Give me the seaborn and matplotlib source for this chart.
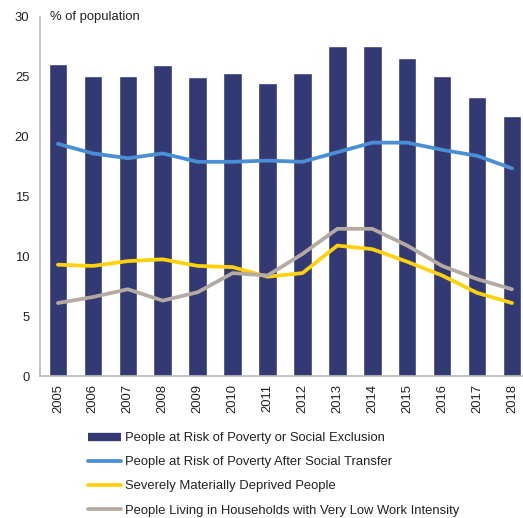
import numpy as np
import matplotlib
matplotlib.use('Agg')
import matplotlib.pyplot as plt
import seaborn as sns
from matplotlib.lines import Line2D

years = ['2005', '2006', '2007', '2008', '2009', '2010', '2011',
         '2012', '2013', '2014', '2015', '2016', '2017', '2018']
risk_poverty_exclusion = [26.1, 25.1, 25.1, 26.0, 25.0, 25.3, 24.5,
                          25.3, 27.6, 27.6, 26.6, 25.1, 23.3, 21.7]
risk_after_transfer = [19.4, 18.6, 18.2, 18.6, 17.9, 17.9, 18.0,
                       17.9, 18.7, 19.5, 19.5, 18.9, 18.4, 17.35]
materially_deprived = [9.3, 9.2, 9.6, 9.75, 9.2, 9.1, 8.3,
                       8.6, 10.9, 10.6, 9.55, 8.4, 6.95, 6.1]
low_work_intensity = [6.1, 6.6, 7.25, 6.3, 7.0, 8.6, 8.4,
                      10.2, 12.3, 12.3, 10.9, 9.2, 8.1, 7.25]

labels = ['People at Risk of Poverty or Social Exclusion',
          'People at Risk of Poverty After Social Transfer',
          'Severely Materially Deprived People',
          'People Living in Households with Very Low Work Intensity']
colors = ['#333a73', '#4a8fd6', '#fdd20c', '#b5aaa1']

sns.set_style('white')
plt.rcParams['font.family'] = ['Liberation Sans', 'DejaVu Sans']
fs = 9.4

fig = plt.figure(figsize=(5.23, 5.18), dpi=100)
ax = fig.add_axes([0.0774, 0.2741, 0.935, 0.6931])

sns.barplot(x=years, y=risk_poverty_exclusion, color=colors[0],
            width=0.53, saturation=1, ax=ax)

pos = np.arange(len(years))
for vals, c in zip([risk_after_transfer, materially_deprived, low_work_intensity], colors[1:]):
    sns.lineplot(x=pos, y=vals, color=c, linewidth=2.7, ax=ax, zorder=3)

ax.set_ylim(0, 30)
ax.set_xlim(-0.5, len(years) - 0.5)
ax.set_yticks(range(0, 31, 5))
ax.set_xticks(pos)
ax.set_xticklabels(years, rotation=90)
ax.tick_params(axis='both', length=0, labelsize=fs, colors='#222222')
ax.tick_params(axis='y', pad=8)
ax.tick_params(axis='x', pad=6)
ax.set_xlabel('')
ax.set_ylabel('')
sns.despine(ax=ax)
for s in ['left', 'bottom']:
    ax.spines[s].set_color('#b8b8b8')
    ax.spines[s].set_linewidth(1.2)

fig.text(50 / 523, 1 - 17 / 518, '% of population', fontsize=fs,
         color='#222222', va='center', ha='left')

handles = [Line2D([0], [0], color=colors[0], linewidth=6, solid_capstyle='butt'),
           Line2D([0], [0], color=colors[1], linewidth=2.7),
           Line2D([0], [0], color=colors[2], linewidth=2.7),
           Line2D([0], [0], color=colors[3], linewidth=2.7)]
fig.legend(handles, labels, loc='upper left', bbox_to_anchor=(88 / 523, 1 - 432 / 518),
           frameon=False, fontsize=fs, handlelength=2.55, handletextpad=0.25,
           labelspacing=0.92, borderpad=0, borderaxespad=0,
           labelcolor='#222222')

fig.savefig('out.png', dpi=100)
